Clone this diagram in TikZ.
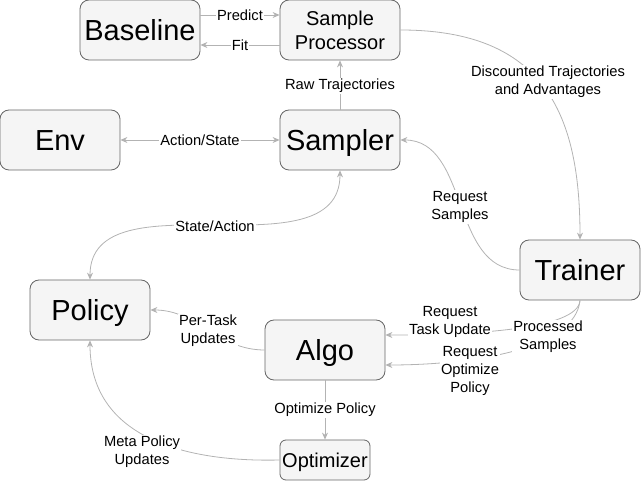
\documentclass[tikz,border=0pt]{standalone}
\usepackage{fontspec}
\setmainfont{Liberation Sans}
\usetikzlibrary{arrows.meta}
\definecolor{boxfill}{HTML}{F5F5F5}
\definecolor{boxline}{HTML}{666666}
\definecolor{edgecol}{HTML}{B3B3B3}
\begin{document}
\begin{tikzpicture}[x=1pt,y=-1pt,
  box/.style={draw=boxline, fill=boxfill, rounded corners=9pt, line width=0.8pt, inner sep=0pt, align=center, text=black},
  big/.style={box, minimum width=120pt, minimum height=60pt, font=\fontsize{29}{34}\selectfont, text height=27pt, text depth=6.1pt},
  mid/.style={box, minimum width=120pt, minimum height=60pt, font=\fontsize{20}{24}\selectfont},
  lbl/.style={fill=white, inner sep=1pt, font=\fontsize{14.7}{18}\selectfont, align=center, text=black},
  arr/.style={draw=edgecol, line width=0.8pt, -{Stealth[length=7pt,width=6pt]}},
  darr/.style={draw=edgecol, line width=0.8pt, {Stealth[length=7pt,width=6pt]}-{Stealth[length=7pt,width=6pt]}},
]
\useasboundingbox (0,0) rectangle (641,481);

% boxes
\node[big] (baseline) at (140,30) {Baseline};
\node[mid] (sp) at (340,30) {Sample\\Processor};
\node[big] (env) at (60,140) {Env};
\node[big] (sampler) at (340,140) {Sampler};
\node[big] (trainer) at (580,270) {Trainer};
\node[big] (policy) at (90,310) {Policy};
\node[big] (algo) at (325,350) {Algo};
\node[mid, minimum width=90pt, minimum height=40pt, rounded corners=6pt, text height=18.6pt, text depth=4.2pt] (opt) at (325,460) {Optimizer};

% connectors
\draw[arr] ([yshift=15pt]baseline.east) -- ([yshift=15pt]sp.west);
\draw[arr] ([yshift=-15pt]sp.west) -- ([yshift=-15pt]baseline.east);
\draw[arr] (sampler.north) -- (sp.south);
\draw[darr] (env.east) -- (sampler.west);
\draw[arr] (sp.east) .. controls (545,30) and (580,115) .. (trainer.north);
\draw[arr] (trainer.west) to[out=180,in=0] (sampler.east);
\draw[darr] (sampler.south) to[out=-90,in=90] (policy.north);
\draw[arr] (algo.west) to[out=180,in=0] (policy.east);
\draw[arr] (algo.south) -- (opt.north);
\draw[arr] (opt.west) .. controls (200,462) and (90,445) .. (policy.south);
\draw[arr] (trainer.south) .. controls (578,330) and (470,335) .. ([yshift=15pt]algo.east);
\draw[arr] (trainer.south) .. controls (575,350) and (470,365) .. ([yshift=-15pt]algo.east);

% labels
\node[lbl] (lpredict) at (240,15) {Predict};
\node[lbl] (lfit) at (240,45) {Fit};
\node[lbl] (lraw) at (340,86) {Raw Trajectories};
\node[lbl] (lact) at (200,140) {Action/State};
\node[lbl] (ldisc) at (548,82) {Discounted Trajectories\\and Advantages};
\node[lbl] (lreqs) at (460,207) {Request\\Samples};
\node[lbl] (lstate) at (215,226) {State/Action};
\node[lbl] (lper) at (208,331) {Per-Task\\Updates};
\node[lbl] (lopt) at (325,410) {Optimize Policy};
\node[lbl] (lmeta) at (142,452) {Meta Policy\\Updates};
\node[lbl] (lproc) at (548,337) {Processed\\Samples};
\node[lbl] (ltask) at (450,322) {Request\\Task Update};
\node[lbl] (loptp) at (470,371) {Request\\Optimize\\Policy};
\end{tikzpicture}
\end{document}
